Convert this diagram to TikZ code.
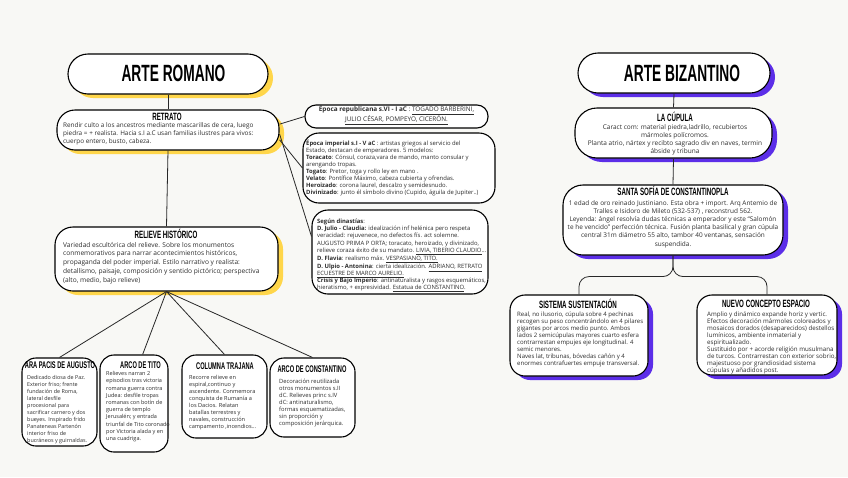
\documentclass[tikz,border=0pt]{standalone}
\usepackage{fontspec}
\setmainfont{Open Sans}
\newfontfamily\hdrfont[FakeStretch=0.585]{Liberation Sans}
\usetikzlibrary{shadows}
\definecolor{bg}{RGB}{248,248,245}
\definecolor{ylw}{RGB}{255,214,74}
\definecolor{prp}{RGB}{92,46,232}
\definecolor{txt}{RGB}{45,45,45}
\definecolor{lnc}{RGB}{40,40,40}
\begin{document}
\begin{tikzpicture}[x=1pt,y=-1pt,
  bx/.style={draw=black, line width=1.1pt, fill=white, inner sep=0pt},
  ysh/.style={drop shadow={shadow xshift=5pt,shadow yshift=-4pt,fill=ylw,opacity=1}},
  psh/.style={drop shadow={shadow xshift=5pt,shadow yshift=-4pt,fill=prp,opacity=1}},
  ttl/.style={font=\hdrfont\bfseries\fontsize{23.5}{23.5}\selectfont, text=black, inner sep=0pt},
  hd/.style={font=\hdrfont\bfseries\fontsize{10.6}{11}\selectfont, text=black, inner sep=0pt},
  hds/.style={font=\hdrfont\bfseries\fontsize{9.7}{10}\selectfont, text=black, inner sep=0pt},
  bd/.style={text=txt, inner sep=0pt, align=left, anchor=north west},
  bdc/.style={text=txt, inner sep=0pt, align=center, anchor=north},
  cn/.style={draw=lnc, line width=0.8pt},
]
\useasboundingbox (0,0) rectangle (848,477);
\fill[bg] (0,0) rectangle (848,477);

% ---------- ARTE ROMANO ----------
\node[bx, ysh, rounded corners=20pt, minimum width=200pt, minimum height=40pt] (tR) at (168,74) {};
\node[bx, ysh, rounded corners=18pt, minimum width=222pt, minimum height=40pt] (retr) at (168,130) {};
\node[bx, ysh, rounded corners=18pt, minimum width=223pt, minimum height=64pt] (relv) at (166.5,259) {};
\node[bx, rounded corners=11pt, minimum width=183pt, minimum height=23pt] (repub) at (396.5,116.5) {};
\node[bx, rounded corners=16pt, minimum width=192pt, minimum height=70pt] (imper) at (399,168) {};
\node[bx, rounded corners=16pt, minimum width=176pt, minimum height=84pt] (dyn) at (400,252) {};
\node[bx, rounded corners=14pt, minimum width=75pt, minimum height=88pt] (ara) at (59.5,402) {};
\node[bx, rounded corners=14pt, minimum width=68pt, minimum height=97pt] (tito) at (134,403.5) {};
\node[bx, rounded corners=14pt, minimum width=85pt, minimum height=83pt] (traj) at (224.5,396.5) {};
\node[bx, rounded corners=14pt, minimum width=85pt, minimum height=79pt] (const) at (312.5,397.5) {};

\draw[cn] (tR.south) -- (retr.north);
\draw[cn] (retr.south) -- (relv.north);
\draw[cn] (retr.3) -- (repub.west);
\draw[cn] (retr.-5) -- (imper.west);
\draw[cn] (retr.-2) -- (dyn.170);
\draw[cn] (relv.south) -- (ara.north);
\draw[cn] (relv.south) -- (tito.80);
\draw[cn] (relv.south) -- (traj.north);
\draw[cn] (relv.south) -- (const.north);

\node[ttl] (tRt) at (173.5,73.5) {ARTE ROMANO};

\node[hd] (retrh) at (167,116.8) {RETRATO};
\node[bd, font=\fontsize{6.4}{8}\selectfont] (retrt) at (63,122.6) {Rendir culto a los ancestros mediante mascarillas de cera, luego\\
piedra = + realista. Hacia s.I a.C usan familias ilustres para vivos:\\
cuerpo entero, busto, cabeza.};

\node[hd] (relvh) at (166,233.6) {RELIEVE HISTÓRICO};
\node[bd, font=\fontsize{6.6}{8.8}\selectfont] (relvt) at (63,241.8) {Variedad escultórica del relieve. Sobre los monumentos\\
conmemorativos para narrar acontecimientos históricos,\\
propaganda del poder imperial. Estilo narrativo y realista:\\
detallismo, paisaje, composición y sentido pictórico; perspectiva\\
(alto, medio, bajo relieve)};

\node[text=txt, inner sep=0pt, align=center, font=\fontsize{6.4}{8}\selectfont] (repubt) at (396.5,115.5) {\textbf{Época republicana s.VI - I aC} : \underline{TOGADO BARBERINI,}\\
\underline{JULIO CÉSAR, POMPEYO, CICERÓN.}};

\node[bd, font=\fontsize{5.9}{6.9}\selectfont] (impert) at (306,140.3) {\textbf{Época imperial s.I - V aC} : artistas griegos al servicio del\\
Estado, destacan de emperadores. 5 modelos:\\
\textbf{Toracato}: Cónsul, coraza,vara de mando, manto consular y\\
arengando tropas.\\
\textbf{Togato}: Pretor, toga y rollo ley en mano .\\
\textbf{Velato}: Pontífice Máximo, cabeza cubierta y ofrendas.\\
\textbf{Heroizado}: corona laurel, descalzo y semidesnudo.\\
\textbf{Divinizado}: junto él símbolo divino (Cupido, águila de Jupiter..)};

\node[bd, font=\fontsize{5.9}{7.1}\selectfont] (dynt) at (317,219) {\textbf{Según dinastías}:\\
\textbf{D. Julio - Claudia:} idealización inf helénica pero respeta\\
veracidad:  rejuvenece, no defectos fís. act solemne.\\
AUGUSTO PRIMA P ORTA; toracato, heroizado, y divinizado,\\
relieve coraza éxito de su mandato. \underline{LIVIA, TIBERIO CLAUDIO}...\\
\textbf{D. Flavia}: realismo máx. \underline{VESPASIANO, TITO.}\\
\textbf{D. Ulpio - Antonina}: cierta idealización. \underline{ADRIANO, RETRATO}\\
\underline{ECUESTRE DE MARCO AURELIO.}\\
\textbf{Crisis y Bajo Imperio}: antinaturalista y rasgos esquemáticos,\\
hieratismo, + expresividad. \underline{Estatua de CONSTANTINO}.};

\node[hds] (arah) at (60,365.5) {ARA PACIS DE AUGUSTO};
\node[bd, font=\fontsize{5.4}{7}\selectfont] (arat) at (27,375.3) {Dedicado diosa de Paz.\\
Exterior friso; frente\\
fundación de Roma,\\
lateral desfile\\
procesional para\\
sacrificar carnero y dos\\
bueyes. Inspirado frido\\
Panateneas Partenón\\
interior friso de\\
bucráneos y guirnaldas.};

\node[hds] (titoh) at (140.5,365.5) {ARCO DE TITO};
\node[bd, font=\fontsize{5.5}{7.2}\selectfont] (titot) at (106,371.3) {Relieves narran 2\\
episodios tras victoria\\
romana guerra contra\\
Judea: desfile tropas\\
romanas con botín de\\
guerra de templo\\
Jerusalén; y entrada\\
triunfal de Tito coronado\\
por Victoria alada y en\\
una cuadriga.};

\node[hds] (trajh) at (225,366) {COLUMNA TRAJANA};
\node[bd, font=\fontsize{5.6}{7}\selectfont] (trajt) at (189,375.2) {Recorre relieve en\\
espiral,continuo y\\
ascendente. Conmemora\\
conquista de Rumanía a\\
los Dacios. Relatan\\
batallas terrestres y\\
navales, construcción\\
campamento ,incendios...};

\node[hds] (consth) at (312,369) {ARCO DE CONSTANTINO};
\node[bd, font=\fontsize{5.8}{7}\selectfont] (constt) at (279,379.1) {Decoración reutilizada\\
otros monumentos s.II\\
dC. Relieves princ s.IV\\
dC: antinaturalismo,\\
formas esquematizadas,\\
sin proporción y\\
composición jerárquica.};

% ---------- ARTE BIZANTINO ----------
\node[bx, psh, rounded corners=20pt, minimum width=192pt, minimum height=40pt] (tB) at (674,73) {};
\node[bx, psh, rounded corners=22pt, minimum width=197pt, minimum height=50pt] (cup) at (673.5,133) {};
\node[bx, psh, rounded corners=20pt, minimum width=220pt, minimum height=70pt] (sofia) at (673,220) {};
\node[bx, psh, rounded corners=15pt, minimum width=138pt, minimum height=81pt] (sist) at (579,335.5) {};
\node[bx, psh, rounded corners=15pt, minimum width=140pt, minimum height=80pt] (nuevo) at (767,335) {};

\draw[cn] (tB.south) -- (cup.north);
\draw[cn] (cup.south) -- (sofia.north);
\draw[cn, rounded corners=10pt] (sofia.south) -- ++(0,21) -| (sist.north);
\draw[cn, rounded corners=10pt] (sofia.south) -- ++(0,21) -| (nuevo.north);

\node[ttl] (tBt) at (682,73) {ARTE BIZANTINO};

\node[hd] (cuph) at (675,116.6) {LA CÚPULA};
\node[bdc, font=\fontsize{6.5}{8}\selectfont] (cupt) at (675,124.2) {Caract com: material piedra,ladrillo, recubiertos\\
mármoles polícromos.\\
Planta atrio, nártex y recibto sagrado div en naves, termin\\
ábside y tribuna};

\node[hd] (sofiah) at (673,191.2) {SANTA SOFÍA DE CONSTANTINOPLA};
\node[bdc, font=\fontsize{6.45}{8.2}\selectfont] (sofiat) at (673,200) {1 edad de oro reinado Justiniano. Esta obra + import. Arq Antemio de\\
Tralles e Isidoro de Mileto (532-537) ,  reconstrud 562.\\
Leyenda: ángel resolvía dudas técnicas a emperador y este ``Salomón\\
te he vencido'' perfección técnica. Fusión planta basilical y gran cúpula\\
central 31m  diámetro 55 alto, tambor 40 ventanas, sensación\\
suspendida.};

\node[hd] (sisth) at (578,304.3) {SISTEMA SUSTENTACIÓN};
\node[bd, font=\fontsize{6.05}{7.1}\selectfont] (sistt) at (517,311.2) {Real, no ilusorio, cúpula sobre 4 pechinas\\
recogen su peso concentrándolo en 4 pilares\\
gigantes por arcos medio punto. Ambos\\
lados 2 semicúpulas mayores cuarto esfera\\
contrarrestan empujes eje longitudinal. 4\\
semic menores.\\
Naves lat, tribunas, bóvedas cañón y 4\\
enormes contrafuertes empuje transversal.};

\node[hd] (nuevoh) at (766,304.3) {NUEVO CONCEPTO ESPACIO};
\node[bd, font=\fontsize{6.2}{7.1}\selectfont] (nuevot) at (707,311.2) {Amplio y dinámico expande horiz y vertic.\\
Efectos decoración mármoles coloreados y\\
mosaicos dorados (desaparecidos) destellos\\
lumínicos, ambiente inmaterial y\\
espiritualizado.\\
Sustituido por + acorde religión musulmana\\
de turcos. Contrarrestan con exterior sobrio,\\
majestuoso por grandiosidad sistema\\
cúpulas y añadidos post.};
\end{tikzpicture}
\end{document}
